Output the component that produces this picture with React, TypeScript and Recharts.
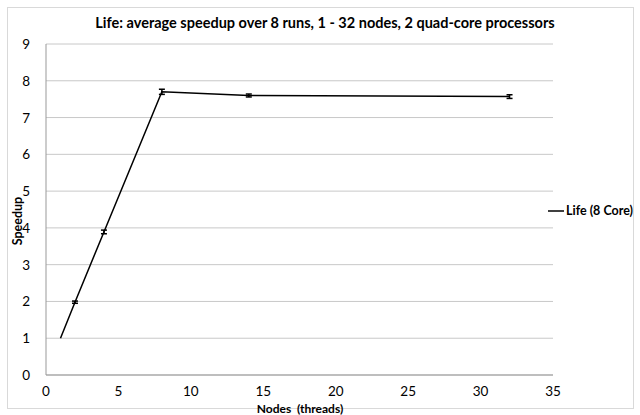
import React from "react";
import { LineChart, Line, XAxis, YAxis, CartesianGrid, ErrorBar } from "recharts";

const nodes = [1, 2, 4, 8, 14, 32];
const speedup = [1.0, 1.98, 3.89, 7.7, 7.6, 7.57];
const errors = [0.0, 0.03, 0.05, 0.07, 0.04, 0.05];
const xTicks = [0, 5, 10, 15, 20, 25, 30, 35];
const yTicks = [0, 1, 2, 3, 4, 5, 6, 7, 8, 9];
const seriesName = "Life (8 Core)";
const title = "Life: average speedup over 8 runs, 1 - 32 nodes, 2 quad-core processors";

const data = nodes.map((n, i) => ({ n, s: speedup[i], err: errors[i] }));
const FONT = "Lato, 'Open Sans', sans-serif";

const YTick = (props: any) => {
  const { x, y, payload } = props;
  return (
    <text x={x - 8} y={y} dy={5} textAnchor="end" fontSize={13.5} fontFamily={FONT} fill="#000">
      {payload.value}
    </text>
  );
};
const XTick = (props: any) => {
  const { x, y, payload } = props;
  return (
    <text x={x} y={y + 13} textAnchor="middle" fontSize={13.5} fontFamily={FONT} fill="#000">
      {payload.value}
    </text>
  );
};

export default function App() {
  return (
    <div style={{ position: "absolute", left: 0, top: 0, width: 640, height: 415, background: "#fff" }}>
      <div style={{ position: "absolute", left: 7, top: 7, width: 625, height: 400, border: "1px solid #d9d9d9" }} />
      <div
        style={{
          position: "absolute", left: 0, top: 16, width: 650, textAlign: "center", lineHeight: 1,
          fontFamily: FONT, fontWeight: 700, fontSize: 14.5, color: "#000",
        }}
      >
        {title}
      </div>
      <div
        style={{
          position: "absolute", left: 18, top: 221, transform: "translate(-50%, -50%) rotate(-90deg)",
          fontFamily: FONT, fontWeight: 700, fontSize: 12.5, whiteSpace: "nowrap", lineHeight: 1,
        }}
      >
        Speedup
      </div>
      <div
        style={{
          position: "absolute", left: 300, top: 409, transform: "translate(-50%, -50%)", lineHeight: 1,
          fontFamily: FONT, fontWeight: 700, fontSize: 12, whiteSpace: "pre",
        }}
      >
        {"Nodes  (threads)"}
      </div>
      <div
        style={{
          position: "absolute", left: 548, top: 205, display: "flex", alignItems: "center", lineHeight: 1,
          fontFamily: FONT, fontSize: 12.5, fontWeight: 700, whiteSpace: "nowrap",
        }}
      >
        <svg width={16} height={4} style={{ marginRight: 2 }}>
          <line x1={0} y1={2} x2={16} y2={2} stroke="#000" strokeWidth={1.5} />
        </svg>
        <span>{seriesName}</span>
      </div>
      <div style={{ position: "absolute", left: 0, top: 0 }}>
        <LineChart width={640} height={415} data={data} margin={{ top: 44, right: 87, bottom: 15, left: 6 }}>
          <CartesianGrid vertical={false} stroke="#c8c8c8" strokeWidth={1} />
          <XAxis
            dataKey="n" type="number" domain={[0, 35]} ticks={xTicks} interval={0}
            height={25} tickLine={false} axisLine={{ stroke: "#999" }} tick={<XTick />}
          />
          <YAxis
            type="number" domain={[0, 9]} ticks={yTicks} interval={0}
            width={40} tickLine={false} axisLine={{ stroke: "#999" }} tick={<YTick />}
          />
          <Line
            dataKey="s" name={seriesName} stroke="#000" strokeWidth={1.5} dot={false}
            isAnimationActive={false} type="linear"
          >
            <ErrorBar dataKey="err" width={3} stroke="#000" strokeWidth={1.5} direction="y" />
          </Line>
        </LineChart>
      </div>
    </div>
  );
}
